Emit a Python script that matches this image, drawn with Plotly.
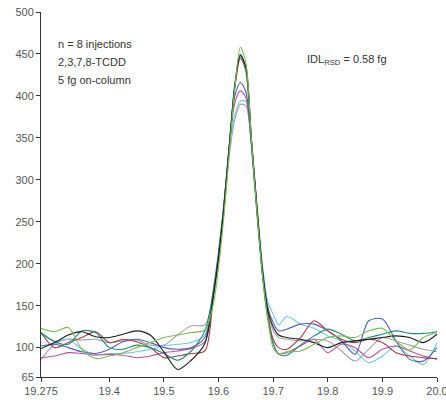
import plotly.graph_objects as go

x_vals = [19.275, 19.3, 19.325, 19.35, 19.375, 19.4, 19.425, 19.45, 19.475, 19.5, 19.525, 19.55, 19.575,
          19.59, 19.6, 19.61, 19.62, 19.63, 19.64, 19.65, 19.66, 19.67, 19.68, 19.69,
          19.7, 19.71, 19.725, 19.75, 19.775, 19.8, 19.825, 19.85, 19.875, 19.9, 19.925, 19.95, 19.975, 20.0]

gray_y = [86, 104, 110, 109, 110, 106, 108, 109, 103, 103, 115, 126, 127,
          160, 205, 262, 330, 372, 390, 388, 345, 272, 200, 150,
          120, 112, 110, 108, 110, 108, 96, 84, 98, 112, 108, 103, 98, 95]
cyan_y = [116, 108, 110, 98, 92, 93, 93, 95, 98, 102, 104, 106, 115,
          168, 215, 272, 338, 378, 394, 393, 345, 272, 200, 155,
          140, 127, 137, 128, 123, 114, 108, 96, 82, 90, 102, 90, 80, 106]
magenta_y = [88, 90, 94, 93, 91, 92, 91, 88, 90, 94, 96, 99, 107,
             165, 212, 272, 342, 392, 406, 398, 342, 266, 192, 142,
             105, 93, 94, 102, 110, 94, 104, 100, 88, 98, 102, 96, 90, 86]
blue_y = [102, 104, 100, 95, 93, 98, 107, 110, 106, 100, 98, 100, 112,
          162, 210, 270, 342, 400, 416, 405, 345, 268, 195, 148,
          130, 120, 122, 128, 128, 120, 108, 92, 132, 134, 108, 86, 84, 100]
red_y = [118, 100, 106, 112, 119, 106, 110, 107, 100, 88, 90, 93, 96,
         158, 205, 266, 340, 410, 445, 430, 348, 268, 192, 140,
         110, 100, 98, 112, 132, 120, 110, 106, 110, 106, 94, 90, 88, 87]
teal_y = [118, 107, 104, 120, 118, 100, 98, 103, 100, 93, 85, 96, 120,
          165, 210, 270, 345, 415, 450, 432, 345, 262, 188, 135,
          105, 92, 91, 103, 114, 122, 116, 108, 112, 116, 120, 117, 117, 119]
black_y = [99, 106, 115, 119, 113, 112, 116, 120, 115, 95, 74, 85, 105,
           160, 208, 268, 342, 413, 448, 435, 352, 270, 195, 145,
           125, 115, 112, 110, 106, 100, 106, 108, 110, 112, 114, 112, 106, 116]
green_y = [123, 119, 124, 98, 87, 90, 94, 100, 106, 112, 115, 118, 121,
           150, 195, 258, 335, 410, 458, 440, 350, 265, 190, 135,
           100, 93, 95, 96, 104, 112, 114, 112, 120, 123, 108, 97, 112, 118]

series = [
    ("gray", gray_y, "#a3a3a3"),
    ("cyan", cyan_y, "#70cbe6"),
    ("magenta", magenta_y, "#c24fa3"),
    ("blue", blue_y, "#4f62b3"),
    ("red", red_y, "#a33a42"),
    ("teal", teal_y, "#1f8c7e"),
    ("black", black_y, "#1c1c1c"),
    ("green", green_y, "#74c04c"),
]

y_ticks = [65, 100, 150, 200, 250, 300, 350, 400, 450, 500]
x_ticks = [19.275, 19.4, 19.5, 19.6, 19.7, 19.8, 19.9, 20.0]
x_tick_text = ["19.275", "19.4", "19.5", "19.6", "19.7", "19.8", "19.9", "20.0"]

fig = go.Figure()
for name, ys, col in series:
    fig.add_trace(go.Scatter(x=x_vals, y=ys, mode="lines", name=name,
                             line=dict(color=col, width=1.1, shape="spline", smoothing=0.8),
                             showlegend=False, hoverinfo="skip"))

font_fam = "Liberation Sans, Arial, sans-serif"
fig.update_layout(
    width=446, height=400, autosize=False,
    margin=dict(l=41, r=9, t=12, b=23, pad=0),
    paper_bgcolor="white", plot_bgcolor="white",
    font=dict(family=font_fam, size=11, color="#555"),
    xaxis=dict(range=[19.275, 20.0], tickvals=x_ticks, ticktext=x_tick_text,
               showgrid=False, zeroline=False, showline=True, linecolor="#333", linewidth=1,
               ticks="outside", ticklen=4, tickcolor="#333", automargin=False,
               ticklabeloverflow="allow",
               tickfont=dict(size=11, color="#555")),
    yaxis=dict(range=[65, 500], tickvals=y_ticks,
               showgrid=False, zeroline=False, showline=True, linecolor="#333", linewidth=1,
               ticks="outside", ticklen=4, tickcolor="#333", automargin=False,
               ticklabeloverflow="allow",
               tickfont=dict(size=11, color="#555")),
)

ann_font = dict(family=font_fam, size=11, color="#333")
for txt, yv in [("n = 8 injections", 462), ("2,3,7,8-TCDD", 440), ("5 fg on-column", 419)]:
    fig.add_annotation(x=19.3025, y=yv, xref="x", yref="y", text=txt, showarrow=False,
                       xanchor="left", yanchor="middle", font=ann_font)
fig.add_annotation(x=19.758, y=443, xref="x", yref="y",
                   text="IDL<sub>RSD</sub> = 0.58 fg", showarrow=False,
                   xanchor="left", yanchor="middle", font=ann_font)

fig.write_html("out.html",
               config={"displayModeBar": False},
               post_script="document.body.style.margin='0';document.body.style.overflow='hidden';")
